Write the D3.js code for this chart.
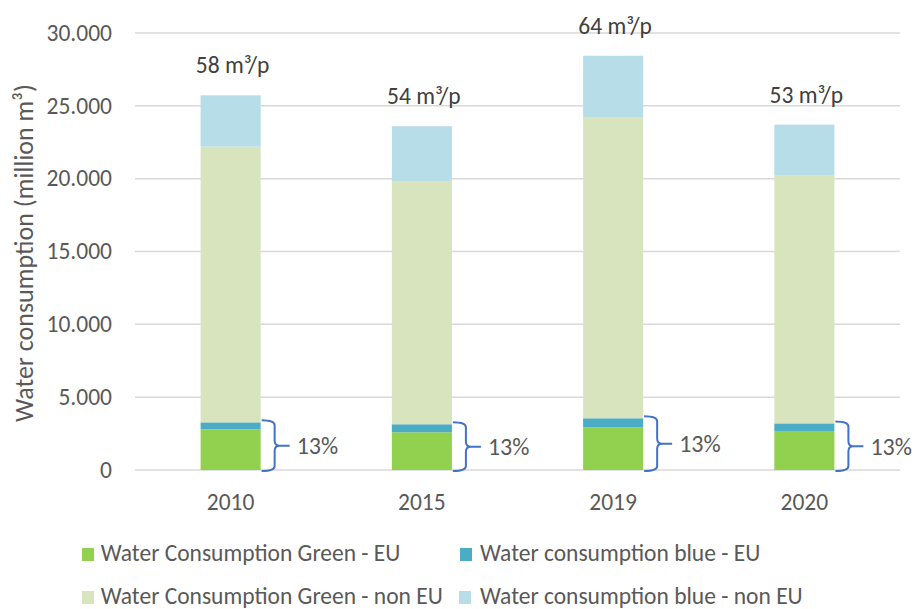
<!DOCTYPE html>
<html><head><meta charset="utf-8">
<script src="https://cdn.jsdelivr.net/npm/d3@7"></script>
<style>
body{margin:0;background:#fff;}
text{font-family:Carlito,Calibri,Lato,"Open Sans",sans-serif;}
</style></head>
<body><svg id="c" width="916" height="609"></svg>
<script>
const years = ["2010","2015","2019","2020"];
const greenEU = [2790, 2590, 2930, 2680];
const blueEU = [480, 550, 620, 520];
const greenNonEU = [18930, 16700, 20680, 17000];
const blueNonEU = [3520, 3760, 4210, 3510];
const perCapita = ["58 m³/p", "54 m³/p", "64 m³/p", "53 m³/p"];
const euShare = ["13%", "13%", "13%", "13%"];
const yTicks = [0, 5000, 10000, 15000, 20000, 25000, 30000];
const seriesNames = ["Water Consumption Green - EU","Water consumption blue - EU","Water Consumption Green - non EU","Water consumption blue - non EU"];
const colors = ["#92d050","#4bacc6","#d7e4bd","#b7dde8"];

const svg = d3.select("#c");
const x = d3.scaleBand().domain(years).range([135, 900]).paddingInner(0.686).paddingOuter(0.343);
const y = d3.scaleLinear().domain([0, 30000]).range([470, 33]);
const loc = d3.formatLocale({decimal: ",", thousands: ".", grouping: [3], currency: ["", "€"]});
const fmt = loc.format(",.0f");
const FS = 23.5;

// gridlines
svg.append("g").selectAll("line").data(yTicks).join("line")
  .attr("x1", 135).attr("x2", 900)
  .attr("y1", d => y(d)).attr("y2", d => y(d))
  .attr("stroke", "#d9d9d9").attr("stroke-width", 1.5);

// y tick labels
svg.append("g").selectAll("text").data(yTicks).join("text")
  .attr("x", 112).attr("y", d => y(d)).attr("dy", "0.33em")
  .attr("text-anchor", "end").attr("font-size", FS).attr("fill", "#595959")
  .text(d => fmt(d));

// y title
svg.append("text").attr("transform", "translate(33,253) rotate(-90)")
  .attr("text-anchor", "middle").attr("font-size", 26).attr("fill", "#595959")
  .text("Water consumption (million m³)");

// stack
const rows = years.map((yr, i) => ({year: yr, s0: greenEU[i], s1: blueEU[i], s2: greenNonEU[i], s3: blueNonEU[i]}));
const stack = d3.stack().keys(["s0","s1","s2","s3"])(rows);
svg.append("g").selectAll("g").data(stack).join("g")
  .attr("fill", (d, i) => colors[i])
  .selectAll("rect").data(d => d).join("rect")
  .attr("x", d => x(d.data.year)).attr("width", x.bandwidth())
  .attr("y", d => y(d[1])).attr("height", d => y(d[0]) - y(d[1]));

// x labels
svg.append("g").selectAll("text").data(years).join("text")
  .attr("x", d => x(d) + x.bandwidth() / 2).attr("y", 510)
  .attr("text-anchor", "middle").attr("font-size", FS).attr("fill", "#595959")
  .text(d => d);

// per capita labels
svg.append("g").selectAll("text").data(rows).join("text")
  .attr("x", d => x(d.year) + x.bandwidth() / 2 + 2)
  .attr("y", d => y(d.s0 + d.s1 + d.s2 + d.s3) - 22)
  .attr("text-anchor", "middle").attr("font-size", FS).attr("fill", "#404040")
  .text((d, i) => perCapita[i]);

// braces
const bg = svg.append("g");
rows.forEach((d, i) => {
  const x0 = x(d.year) + x.bandwidth() + 1;
  const top = y(d.s0 + d.s1) - 2, bot = y(0) + 1;
  const mid = (top + bot) / 2;
  const xv = x0 + 13, xt = x0 + 18;
  const r = 5;
  const p = `M${x0},${top} Q${xv},${top} ${xv},${top + r} L${xv},${mid - r} Q${xv},${mid} ${xt},${mid} L${x0 + 28},${mid} M${xt},${mid} Q${xv},${mid} ${xv},${mid + r} L${xv},${bot - r} Q${xv},${bot} ${x0},${bot}`;
  bg.append("path").attr("d", p).attr("fill", "none").attr("stroke", "#4472c4").attr("stroke-width", 2);
  bg.append("text").attr("x", x0 + 35).attr("y", mid).attr("dy", "0.35em")
    .attr("font-size", 24).attr("fill", "#595959").text(euShare[i]);
});

// legend
const legPos = [[82, 100.7, 561], [460, 480, 561], [82, 100.7, 604], [459, 480, 604]];
const lg = svg.append("g");
seriesNames.forEach((n, i) => {
  const [sx, tx, by] = legPos[i];
  lg.append("rect").attr("x", sx).attr("y", by - 13).attr("width", 12).attr("height", 13).attr("fill", colors[i]);
  lg.append("text").attr("x", tx).attr("y", by)
    .attr("font-size", FS).attr("fill", "#595959").text(n);
});
</script></body></html>
